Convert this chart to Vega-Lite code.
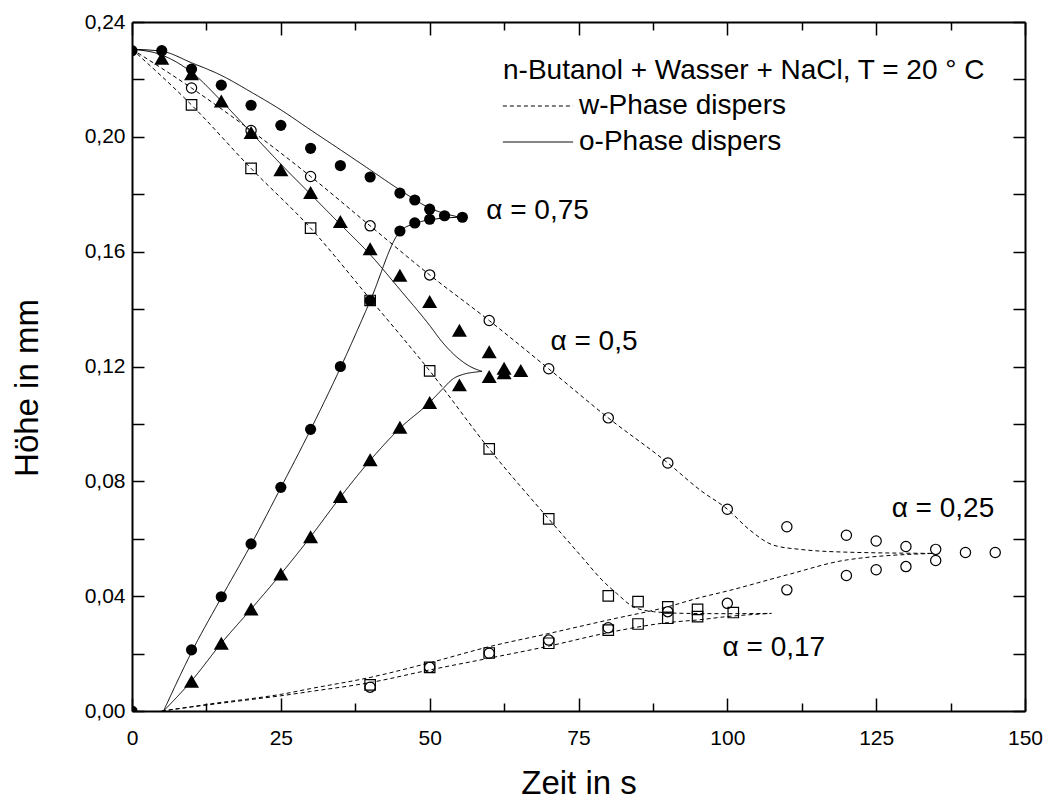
{
"$schema":"https://vega.github.io/schema/vega-lite/v6.json",
"width":893,"height":689,
"autosize":{"type":"none"},
"padding":{"left":132,"top":22,"right":25,"bottom":90},
"background":"white",
"config":{"font":"Liberation Sans","view":{"stroke":null},
 "axis":{"grid":false,"labelColor":"black","titleColor":"black","tickColor":"black","domainColor":"black","titleFontWeight":"normal","labelFont":"Liberation Sans","titleFont":"Liberation Sans"}},
"resolve":{"axis":{"x":"independent","y":"independent"}},
"datasets":{
"pts":[
{"alpha":0.75,"t":0,"h":0.23},{"alpha":0.75,"t":5,"h":0.23},{"alpha":0.75,"t":10,"h":0.2236},{"alpha":0.75,"t":15,"h":0.218},{"alpha":0.75,"t":20,"h":0.211},{"alpha":0.75,"t":25,"h":0.204},{"alpha":0.75,"t":30,"h":0.196},{"alpha":0.75,"t":35,"h":0.19},{"alpha":0.75,"t":40,"h":0.186},{"alpha":0.75,"t":45,"h":0.1804},{"alpha":0.75,"t":47.5,"h":0.178},{"alpha":0.75,"t":50,"h":0.1748},{"alpha":0.75,"t":52.5,"h":0.1725},{"alpha":0.75,"t":55.5,"h":0.172},
{"alpha":0.75,"t":0,"h":0},{"alpha":0.75,"t":10,"h":0.0213},{"alpha":0.75,"t":15,"h":0.0398},{"alpha":0.75,"t":20,"h":0.0582},{"alpha":0.75,"t":25,"h":0.0779},{"alpha":0.75,"t":30,"h":0.0981},{"alpha":0.75,"t":35,"h":0.12},{"alpha":0.75,"t":40,"h":0.143},{"alpha":0.75,"t":45,"h":0.1672},{"alpha":0.75,"t":47.5,"h":0.17},{"alpha":0.75,"t":50,"h":0.1713},
{"alpha":0.5,"t":5,"h":0.2274},{"alpha":0.5,"t":10,"h":0.222},{"alpha":0.5,"t":15,"h":0.2125},{"alpha":0.5,"t":20,"h":0.2015},{"alpha":0.5,"t":25,"h":0.1885},{"alpha":0.5,"t":30,"h":0.1806},{"alpha":0.5,"t":35,"h":0.1705},{"alpha":0.5,"t":40,"h":0.161},{"alpha":0.5,"t":45,"h":0.1518},{"alpha":0.5,"t":50,"h":0.1426},{"alpha":0.5,"t":55,"h":0.1326},{"alpha":0.5,"t":60,"h":0.1251},{"alpha":0.5,"t":62.5,"h":0.1194},{"alpha":0.5,"t":65.3,"h":0.1186},
{"alpha":0.5,"t":10,"h":0.0104},{"alpha":0.5,"t":15,"h":0.0236},{"alpha":0.5,"t":20,"h":0.0355},{"alpha":0.5,"t":25,"h":0.0477},{"alpha":0.5,"t":30,"h":0.0607},{"alpha":0.5,"t":35,"h":0.0747},{"alpha":0.5,"t":40,"h":0.0875},{"alpha":0.5,"t":45,"h":0.0988},{"alpha":0.5,"t":50,"h":0.1075},{"alpha":0.5,"t":55,"h":0.1136},{"alpha":0.5,"t":60,"h":0.1165},{"alpha":0.5,"t":62.5,"h":0.1178},
{"alpha":0.25,"t":10,"h":0.217},{"alpha":0.25,"t":20,"h":0.2022},{"alpha":0.25,"t":30,"h":0.1862},{"alpha":0.25,"t":40,"h":0.169},{"alpha":0.25,"t":50,"h":0.1519},{"alpha":0.25,"t":60,"h":0.136},{"alpha":0.25,"t":70,"h":0.1192},{"alpha":0.25,"t":80,"h":0.1021},{"alpha":0.25,"t":90,"h":0.0864},{"alpha":0.25,"t":100,"h":0.0703},{"alpha":0.25,"t":110,"h":0.0642},{"alpha":0.25,"t":120,"h":0.0612},{"alpha":0.25,"t":125,"h":0.0592},{"alpha":0.25,"t":130,"h":0.0573},{"alpha":0.25,"t":135,"h":0.0563},{"alpha":0.25,"t":140,"h":0.0552},{"alpha":0.25,"t":145,"h":0.0552},
{"alpha":0.25,"t":40,"h":0.0083},{"alpha":0.25,"t":50,"h":0.0152},{"alpha":0.25,"t":60,"h":0.0201},{"alpha":0.25,"t":70,"h":0.0247},{"alpha":0.25,"t":80,"h":0.029},{"alpha":0.25,"t":90,"h":0.0346},{"alpha":0.25,"t":100,"h":0.0375},{"alpha":0.25,"t":110,"h":0.0422},{"alpha":0.25,"t":120,"h":0.0472},{"alpha":0.25,"t":125,"h":0.0492},{"alpha":0.25,"t":130,"h":0.0503},{"alpha":0.25,"t":135,"h":0.0524},
{"alpha":0.17,"t":10,"h":0.2111},{"alpha":0.17,"t":20,"h":0.189},{"alpha":0.17,"t":30,"h":0.1682},{"alpha":0.17,"t":40,"h":0.143},{"alpha":0.17,"t":50,"h":0.1185},{"alpha":0.17,"t":60,"h":0.0913},{"alpha":0.17,"t":70,"h":0.0669},{"alpha":0.17,"t":80,"h":0.0401},{"alpha":0.17,"t":85,"h":0.0381},{"alpha":0.17,"t":90,"h":0.0363},{"alpha":0.17,"t":95,"h":0.0354},{"alpha":0.17,"t":101,"h":0.0343},
{"alpha":0.17,"t":40,"h":0.0091},{"alpha":0.17,"t":50,"h":0.0152},{"alpha":0.17,"t":60,"h":0.0202},{"alpha":0.17,"t":70,"h":0.0236},{"alpha":0.17,"t":80,"h":0.0282},{"alpha":0.17,"t":85,"h":0.0303},{"alpha":0.17,"t":90,"h":0.0323},{"alpha":0.17,"t":95,"h":0.0329}
],
"crv":[
{"alpha":0.75,"zweig":"oben","phase":"o-Phase dispers","t":0,"h":0.2305},{"alpha":0.75,"zweig":"oben","phase":"o-Phase dispers","t":5,"h":0.2298},{"alpha":0.75,"zweig":"oben","phase":"o-Phase dispers","t":10,"h":0.2258},{"alpha":0.75,"zweig":"oben","phase":"o-Phase dispers","t":15,"h":0.2214},{"alpha":0.75,"zweig":"oben","phase":"o-Phase dispers","t":20,"h":0.2156},{"alpha":0.75,"zweig":"oben","phase":"o-Phase dispers","t":25,"h":0.2094},{"alpha":0.75,"zweig":"oben","phase":"o-Phase dispers","t":30,"h":0.2024},{"alpha":0.75,"zweig":"oben","phase":"o-Phase dispers","t":35,"h":0.1955},{"alpha":0.75,"zweig":"oben","phase":"o-Phase dispers","t":40,"h":0.1885},{"alpha":0.75,"zweig":"oben","phase":"o-Phase dispers","t":45,"h":0.1815},{"alpha":0.75,"zweig":"oben","phase":"o-Phase dispers","t":50,"h":0.1752},{"alpha":0.75,"zweig":"oben","phase":"o-Phase dispers","t":55,"h":0.172},
{"alpha":0.75,"zweig":"unten","phase":"o-Phase dispers","t":5.3,"h":0},{"alpha":0.75,"zweig":"unten","phase":"o-Phase dispers","t":10,"h":0.0205},{"alpha":0.75,"zweig":"unten","phase":"o-Phase dispers","t":15,"h":0.0395},{"alpha":0.75,"zweig":"unten","phase":"o-Phase dispers","t":20,"h":0.058},{"alpha":0.75,"zweig":"unten","phase":"o-Phase dispers","t":25,"h":0.0778},{"alpha":0.75,"zweig":"unten","phase":"o-Phase dispers","t":30,"h":0.098},{"alpha":0.75,"zweig":"unten","phase":"o-Phase dispers","t":35,"h":0.1195},{"alpha":0.75,"zweig":"unten","phase":"o-Phase dispers","t":40,"h":0.1428},{"alpha":0.75,"zweig":"unten","phase":"o-Phase dispers","t":45,"h":0.167},{"alpha":0.75,"zweig":"unten","phase":"o-Phase dispers","t":47.5,"h":0.1698},{"alpha":0.75,"zweig":"unten","phase":"o-Phase dispers","t":50,"h":0.1711},{"alpha":0.75,"zweig":"unten","phase":"o-Phase dispers","t":52.5,"h":0.1717},{"alpha":0.75,"zweig":"unten","phase":"o-Phase dispers","t":55,"h":0.172},
{"alpha":0.5,"zweig":"oben","phase":"o-Phase dispers","t":0,"h":0.2305},{"alpha":0.5,"zweig":"oben","phase":"o-Phase dispers","t":5,"h":0.2285},{"alpha":0.5,"zweig":"oben","phase":"o-Phase dispers","t":10,"h":0.2225},{"alpha":0.5,"zweig":"oben","phase":"o-Phase dispers","t":15,"h":0.2125},{"alpha":0.5,"zweig":"oben","phase":"o-Phase dispers","t":20,"h":0.2015},{"alpha":0.5,"zweig":"oben","phase":"o-Phase dispers","t":25,"h":0.1905},{"alpha":0.5,"zweig":"oben","phase":"o-Phase dispers","t":30,"h":0.18},{"alpha":0.5,"zweig":"oben","phase":"o-Phase dispers","t":35,"h":0.1695},{"alpha":0.5,"zweig":"oben","phase":"o-Phase dispers","t":40,"h":0.159},{"alpha":0.5,"zweig":"oben","phase":"o-Phase dispers","t":45,"h":0.1468},{"alpha":0.5,"zweig":"oben","phase":"o-Phase dispers","t":50,"h":0.1343},{"alpha":0.5,"zweig":"oben","phase":"o-Phase dispers","t":52,"h":0.1288},{"alpha":0.5,"zweig":"oben","phase":"o-Phase dispers","t":54.5,"h":0.1234},{"alpha":0.5,"zweig":"oben","phase":"o-Phase dispers","t":56.8,"h":0.12},{"alpha":0.5,"zweig":"oben","phase":"o-Phase dispers","t":58.8,"h":0.1183},
{"alpha":0.5,"zweig":"unten","phase":"o-Phase dispers","t":5.3,"h":0},{"alpha":0.5,"zweig":"unten","phase":"o-Phase dispers","t":10,"h":0.0105},{"alpha":0.5,"zweig":"unten","phase":"o-Phase dispers","t":15,"h":0.0236},{"alpha":0.5,"zweig":"unten","phase":"o-Phase dispers","t":20,"h":0.0355},{"alpha":0.5,"zweig":"unten","phase":"o-Phase dispers","t":25,"h":0.0477},{"alpha":0.5,"zweig":"unten","phase":"o-Phase dispers","t":30,"h":0.0607},{"alpha":0.5,"zweig":"unten","phase":"o-Phase dispers","t":35,"h":0.0745},{"alpha":0.5,"zweig":"unten","phase":"o-Phase dispers","t":40,"h":0.0873},{"alpha":0.5,"zweig":"unten","phase":"o-Phase dispers","t":45,"h":0.0985},{"alpha":0.5,"zweig":"unten","phase":"o-Phase dispers","t":50,"h":0.1075},{"alpha":0.5,"zweig":"unten","phase":"o-Phase dispers","t":52,"h":0.1118},{"alpha":0.5,"zweig":"unten","phase":"o-Phase dispers","t":54,"h":0.1158},{"alpha":0.5,"zweig":"unten","phase":"o-Phase dispers","t":55.7,"h":0.1173},{"alpha":0.5,"zweig":"unten","phase":"o-Phase dispers","t":57.9,"h":0.1181},{"alpha":0.5,"zweig":"unten","phase":"o-Phase dispers","t":58.8,"h":0.1183},
{"alpha":0.25,"zweig":"oben","phase":"w-Phase dispers","t":0,"h":0.2305},{"alpha":0.25,"zweig":"oben","phase":"w-Phase dispers","t":10,"h":0.217},{"alpha":0.25,"zweig":"oben","phase":"w-Phase dispers","t":20,"h":0.2022},{"alpha":0.25,"zweig":"oben","phase":"w-Phase dispers","t":30,"h":0.1862},{"alpha":0.25,"zweig":"oben","phase":"w-Phase dispers","t":40,"h":0.169},{"alpha":0.25,"zweig":"oben","phase":"w-Phase dispers","t":50,"h":0.1519},{"alpha":0.25,"zweig":"oben","phase":"w-Phase dispers","t":60,"h":0.136},{"alpha":0.25,"zweig":"oben","phase":"w-Phase dispers","t":70,"h":0.1192},{"alpha":0.25,"zweig":"oben","phase":"w-Phase dispers","t":80,"h":0.1021},{"alpha":0.25,"zweig":"oben","phase":"w-Phase dispers","t":90,"h":0.0864},{"alpha":0.25,"zweig":"oben","phase":"w-Phase dispers","t":95.4,"h":0.077},{"alpha":0.25,"zweig":"oben","phase":"w-Phase dispers","t":100,"h":0.0703},{"alpha":0.25,"zweig":"oben","phase":"w-Phase dispers","t":103.8,"h":0.063},{"alpha":0.25,"zweig":"oben","phase":"w-Phase dispers","t":107.7,"h":0.0578},{"alpha":0.25,"zweig":"oben","phase":"w-Phase dispers","t":112.2,"h":0.0563},{"alpha":0.25,"zweig":"oben","phase":"w-Phase dispers","t":120.6,"h":0.0553},{"alpha":0.25,"zweig":"oben","phase":"w-Phase dispers","t":134.6,"h":0.0549},
{"alpha":0.25,"zweig":"unten","phase":"w-Phase dispers","t":5,"h":0},{"alpha":0.25,"zweig":"unten","phase":"w-Phase dispers","t":10,"h":0.0015},{"alpha":0.25,"zweig":"unten","phase":"w-Phase dispers","t":15,"h":0.003},{"alpha":0.25,"zweig":"unten","phase":"w-Phase dispers","t":20,"h":0.0043},{"alpha":0.25,"zweig":"unten","phase":"w-Phase dispers","t":25,"h":0.0058},{"alpha":0.25,"zweig":"unten","phase":"w-Phase dispers","t":30,"h":0.0078},{"alpha":0.25,"zweig":"unten","phase":"w-Phase dispers","t":40,"h":0.0117},{"alpha":0.25,"zweig":"unten","phase":"w-Phase dispers","t":50,"h":0.0168},{"alpha":0.25,"zweig":"unten","phase":"w-Phase dispers","t":60,"h":0.0224},{"alpha":0.25,"zweig":"unten","phase":"w-Phase dispers","t":70,"h":0.027},{"alpha":0.25,"zweig":"unten","phase":"w-Phase dispers","t":80,"h":0.0317},{"alpha":0.25,"zweig":"unten","phase":"w-Phase dispers","t":90,"h":0.0363},{"alpha":0.25,"zweig":"unten","phase":"w-Phase dispers","t":95.4,"h":0.0395},{"alpha":0.25,"zweig":"unten","phase":"w-Phase dispers","t":100,"h":0.0418},{"alpha":0.25,"zweig":"unten","phase":"w-Phase dispers","t":110,"h":0.0474},{"alpha":0.25,"zweig":"unten","phase":"w-Phase dispers","t":120,"h":0.0526},{"alpha":0.25,"zweig":"unten","phase":"w-Phase dispers","t":134.6,"h":0.0549},
{"alpha":0.17,"zweig":"oben","phase":"w-Phase dispers","t":0,"h":0.2305},{"alpha":0.17,"zweig":"oben","phase":"w-Phase dispers","t":10,"h":0.2111},{"alpha":0.17,"zweig":"oben","phase":"w-Phase dispers","t":20,"h":0.189},{"alpha":0.17,"zweig":"oben","phase":"w-Phase dispers","t":30,"h":0.1682},{"alpha":0.17,"zweig":"oben","phase":"w-Phase dispers","t":40,"h":0.1435},{"alpha":0.17,"zweig":"oben","phase":"w-Phase dispers","t":50,"h":0.1185},{"alpha":0.17,"zweig":"oben","phase":"w-Phase dispers","t":60,"h":0.0913},{"alpha":0.17,"zweig":"oben","phase":"w-Phase dispers","t":70,"h":0.0669},{"alpha":0.17,"zweig":"oben","phase":"w-Phase dispers","t":75,"h":0.055},{"alpha":0.17,"zweig":"oben","phase":"w-Phase dispers","t":79.5,"h":0.0445},{"alpha":0.17,"zweig":"oben","phase":"w-Phase dispers","t":81.4,"h":0.041},{"alpha":0.17,"zweig":"oben","phase":"w-Phase dispers","t":84.2,"h":0.0363},{"alpha":0.17,"zweig":"oben","phase":"w-Phase dispers","t":87.6,"h":0.0346},{"alpha":0.17,"zweig":"oben","phase":"w-Phase dispers","t":93.2,"h":0.034},{"alpha":0.17,"zweig":"oben","phase":"w-Phase dispers","t":100,"h":0.0339},{"alpha":0.17,"zweig":"oben","phase":"w-Phase dispers","t":107.4,"h":0.034},
{"alpha":0.17,"zweig":"unten","phase":"w-Phase dispers","t":5,"h":0},{"alpha":0.17,"zweig":"unten","phase":"w-Phase dispers","t":10,"h":0.0014},{"alpha":0.17,"zweig":"unten","phase":"w-Phase dispers","t":20,"h":0.004},{"alpha":0.17,"zweig":"unten","phase":"w-Phase dispers","t":25,"h":0.0053},{"alpha":0.17,"zweig":"unten","phase":"w-Phase dispers","t":30,"h":0.0068},{"alpha":0.17,"zweig":"unten","phase":"w-Phase dispers","t":40,"h":0.0099},{"alpha":0.17,"zweig":"unten","phase":"w-Phase dispers","t":50,"h":0.0143},{"alpha":0.17,"zweig":"unten","phase":"w-Phase dispers","t":60,"h":0.0184},{"alpha":0.17,"zweig":"unten","phase":"w-Phase dispers","t":70,"h":0.0226},{"alpha":0.17,"zweig":"unten","phase":"w-Phase dispers","t":80,"h":0.0273},{"alpha":0.17,"zweig":"unten","phase":"w-Phase dispers","t":90,"h":0.0308},{"alpha":0.17,"zweig":"unten","phase":"w-Phase dispers","t":95.4,"h":0.0318},{"alpha":0.17,"zweig":"unten","phase":"w-Phase dispers","t":100,"h":0.0329},{"alpha":0.17,"zweig":"unten","phase":"w-Phase dispers","t":107.4,"h":0.034}
],
"ann":[
{"txt":"α = 0,75","t":59.5,"h":0.174},{"txt":"α = 0,5","t":70.3,"h":0.1287},{"txt":"α = 0,25","t":127.6,"h":0.0705},{"txt":"α = 0,17","t":99.2,"h":0.0218}
]},
"layer":[
{"data":{"name":"crv"},
 "mark":{"type":"line","interpolate":"monotone","color":"black","strokeWidth":1,"clip":true},
 "encoding":{
  "x":{"field":"t","type":"quantitative","scale":{"domain":[0,150],"nice":false,"zero":false},
   "axis":{"orient":"bottom","ticks":false,"domain":false,"grid":false,"values":[0,25,50,75,100,125,150],"labelFontSize":21,"labelPadding":16,"labelFlush":false,"labelOverlap":false,"title":"Zeit in s","titleFontSize":33,"titleX":446.5,"titleY":82,"titleBaseline":"alphabetic","titleAlign":"center"}},
  "y":{"field":"h","type":"quantitative","scale":{"domain":[0,0.24],"nice":false,"zero":false},
   "axis":{"orient":"left","ticks":false,"domain":false,"grid":false,"values":[0,0.04,0.08,0.12,0.16,0.2,0.24],"labelExpr":"replace(format(datum.value, '.2f'), '.', ',')","labelFontSize":21,"labelPadding":7,"labelFlush":false,"labelOverlap":false,"title":"Höhe in mm","titleFontSize":33,"titleAngle":270,"titleX":-95,"titleY":365.5,"titleBaseline":"alphabetic","titleAlign":"center"}},
  "detail":[{"field":"alpha","type":"nominal"},{"field":"zweig","type":"nominal"}],
  "strokeDash":{"field":"phase","type":"nominal","scale":{"domain":["w-Phase dispers","o-Phase dispers"],"range":[[4,3],[1,0]]},
   "legend":{"orient":"none","legendX":371,"legendY":35,"title":"n-Butanol + Wasser + NaCl, T = 20 ° C","titleFontSize":28,"titleFontWeight":"normal","titleColor":"black","titleLimit":1000,"titlePadding":7,"labelFontSize":28,"labelColor":"black","labelLimit":1000,"labelOffset":27,"symbolOffset":21,"symbolType":"M-2.6,0H2.6","symbolSize":729,"symbolStrokeWidth":1,"symbolStrokeColor":"black","rowPadding":8,"padding":0}}
 }},
{"data":{"name":"pts"},"transform":[{"filter":"datum.alpha === 0.75"}],
 "mark":{"type":"point","shape":"circle","filled":true,"size":125,"color":"black","opacity":1,"clip":true},
 "encoding":{
  "x":{"field":"t","type":"quantitative","axis":{"orient":"bottom","labels":false,"title":null,"grid":false,"domain":true,"domainWidth":2,"ticks":true,"tickSize":-13,"tickWidth":1.5,"values":[0,25,50,75,100,125,150],"zindex":1}},
  "y":{"field":"h","type":"quantitative","axis":{"orient":"left","labels":false,"title":null,"grid":false,"domain":true,"domainWidth":2,"ticks":true,"tickSize":-12,"tickWidth":1.5,"values":[0,0.02,0.04,0.06,0.08,0.1,0.12,0.14,0.16,0.18,0.2,0.22,0.24],"zindex":1}}
 }},
{"data":{"name":"pts"},"transform":[{"filter":"datum.alpha === 0.5"}],
 "mark":{"type":"point","shape":"triangle-up","filled":true,"size":225,"color":"black","opacity":1,"clip":true},
 "encoding":{
  "x":{"field":"t","type":"quantitative","axis":{"orient":"bottom","labels":false,"title":null,"grid":false,"domain":false,"ticks":true,"tickSize":-8,"tickWidth":1.5,"values":[12.5,37.5,62.5,87.5,112.5,137.5],"zindex":1}},
  "y":{"field":"h","type":"quantitative","axis":{"orient":"right","labels":false,"title":null,"grid":false,"domain":true,"domainWidth":2,"ticks":true,"tickSize":-12,"tickWidth":1.5,"values":[0,0.02,0.04,0.06,0.08,0.1,0.12,0.14,0.16,0.18,0.2,0.22,0.24],"zindex":1}}
 }},
{"data":{"name":"pts"},"transform":[{"filter":"datum.alpha === 0.25"}],
 "mark":{"type":"point","shape":"circle","filled":false,"size":105,"color":"black","strokeWidth":1.2,"opacity":1,"clip":true},
 "encoding":{
  "x":{"field":"t","type":"quantitative","axis":{"orient":"top","labels":false,"title":null,"grid":false,"domain":true,"domainWidth":2,"ticks":true,"tickSize":-13,"tickWidth":1.5,"values":[0,25,50,75,100,125,150],"zindex":1}},
  "y":{"field":"h","type":"quantitative","axis":null}
 }},
{"data":{"name":"pts"},"transform":[{"filter":"datum.alpha === 0.17"}],
 "mark":{"type":"point","shape":"square","filled":false,"size":110,"color":"black","strokeWidth":1.2,"opacity":1,"clip":true},
 "encoding":{
  "x":{"field":"t","type":"quantitative","axis":{"orient":"top","labels":false,"title":null,"grid":false,"domain":false,"ticks":true,"tickSize":-8,"tickWidth":1.5,"values":[12.5,37.5,62.5,87.5,112.5,137.5],"zindex":1}},
  "y":{"field":"h","type":"quantitative","axis":null}
 }},
{"data":{"name":"ann"},
 "mark":{"type":"text","align":"left","baseline":"middle","fontSize":28,"color":"black","font":"Liberation Sans"},
 "encoding":{
  "x":{"field":"t","type":"quantitative","axis":null},
  "y":{"field":"h","type":"quantitative","axis":null},
  "text":{"field":"txt","type":"nominal"}
 }}
]
}
